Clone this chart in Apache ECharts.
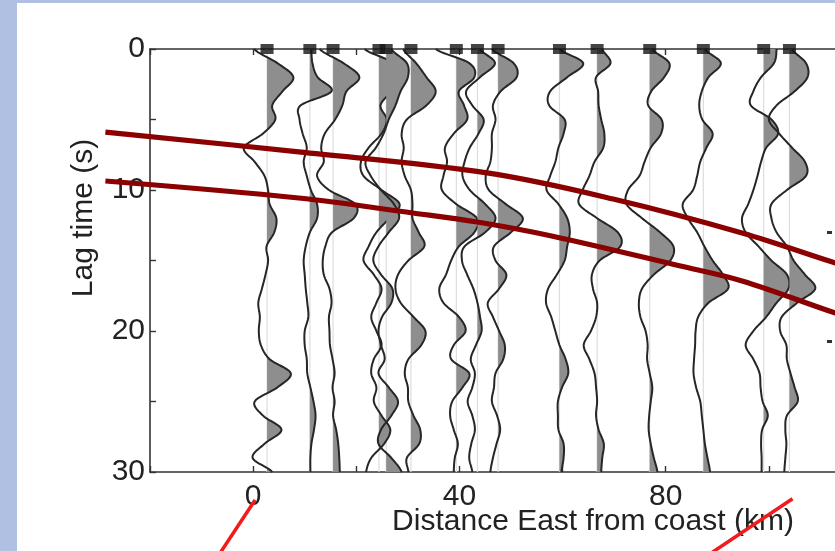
<!DOCTYPE html>
<html><head><meta charset="utf-8">
<script src="https://cdn.jsdelivr.net/npm/echarts@6/dist/echarts.min.js"></script>
<style>
html,body{margin:0;padding:0;width:835px;height:551px;overflow:hidden;background:#fff;}
#bandL{position:absolute;left:0;top:0;width:17px;height:551px;background:#b0c0e2;}
#bandT{position:absolute;left:0;top:0;width:835px;height:3px;background:#b0c0e2;}
#chart{position:absolute;left:0;top:0;width:900px;height:551px;}
</style></head>
<body><div id="bandL"></div><div id="bandT"></div><div id="chart"></div>
<script>
// ---- data ----
const lagTimes = [0,1,2,3,4,5,6,7,8,9,10,11,12,13,14,15,16,17,18,19,20,21,22,23,24,25,26,27,28,29,30];
const stationKm = [2.7, 11.0, 15.5, 24.4, 25.8, 30.6, 39.4, 43.5, 47.5, 59.4, 66.7, 76.9, 87.3, 99.0, 104.0];
// trace amplitudes (km of horizontal deflection), sampled at lagTimes
const trace01 = [-2.5, 2.0, 5.1, 3.0, 1.0, 1.6, -0.8, -4.5, -2.4, -0.5, 0.2, 0.5, 1.8, 1.4, -0.1, 0.2, -0.3, -1.0, -1.7, -1.4, -1.6, -1.2, 0.5, 4.6, 2.0, -2.4, -0.8, 2.8, -0.5, -2.8, 1.0];
const trace02 = [0.3, 0.5, 1.5, 4.2, -1.8, -2.0, -1.4, -0.6, -1.2, -0.6, 0.2, 1.4, 1.4, 0.0, -0.8, -1.2, -1.0, -0.8, -0.5, -0.3, -1.0, -1.0, -0.6, -0.5, 0.1, 0.7, 1.1, 0.8, 0.3, 0.1, 0.1];
const trace03 = [-2.6, 2.0, 5.1, 2.6, 1.8, 0.4, -1.6, -2.3, -1.8, -3.1, -0.8, 4.3, 4.0, -0.2, -1.5, -2.0, -1.8, -0.7, -0.3, -0.8, -0.7, -0.6, -0.1, 0.3, -0.1, 0.3, 0.0, 0.6, 1.0, 1.2, 1.3];
const trace04 = [-2.8, 3.0, 5.0, 2.5, 0.3, 1.5, 0.5, -2.0, -3.5, -3.0, 0.5, 4.0, 2.0, -0.5, -2.0, -3.0, -1.0, 0.5, -0.5, -1.5, -0.5, 0.5, -1.0, -1.5, -0.5, -1.0, 0.5, 2.2, 1.0, -1.5, -2.5];
const trace05 = [1.0, 4.0, 4.2, 2.8, 1.8, 0.5, -0.5, -2.0, -4.0, -3.0, -1.0, 1.5, 2.5, 0.5, -1.5, -2.5, -1.0, 1.2, 1.0, -0.8, -1.5, -1.0, -0.3, -1.5, 0.5, 2.3, 1.0, -1.0, -1.5, 1.0, 3.0];
const trace06 = [-1.5, 1.0, 3.0, 4.8, 3.0, -0.8, -1.8, -1.4, -1.8, -1.2, 0.0, 0.3, 0.3, 1.5, 2.6, -0.5, -2.5, -3.0, -2.0, 0.5, 2.8, 2.0, -0.5, -1.2, -0.6, -0.5, 0.5, 1.8, 1.6, -0.8, -0.5];
const trace07 = [-4.0, 2.5, 3.5, 0.5, 1.5, 2.1, -0.5, -2.2, -1.8, -2.5, -2.8, 0.0, 4.0, 3.5, 0.5, -1.0, -2.0, -3.3, -2.5, 0.5, 1.8, -0.5, -1.0, 2.5, 1.2, -0.8, -1.2, -0.5, 0.3, -0.3, -0.5];
const trace08 = [0.5, 3.4, 0.5, -2.2, -1.0, 1.2, 0.2, -1.5, -2.5, -2.9, -1.5, 1.5, 3.5, 1.5, -2.5, -3.0, -2.0, -0.8, 0.0, 0.5, 0.8, -0.3, -1.3, -0.5, -1.0, -1.9, -1.0, -0.5, -1.2, -1.6, -1.0];
const trace09 = [-1.2, 3.0, 3.6, 0.5, -1.0, -0.5, -1.2, -1.2, -1.5, -2.4, -1.8, 1.5, 4.8, 2.5, -0.8, -0.5, 1.6, 0.2, -2.0, -1.0, 0.2, 1.3, 1.0, -0.5, -0.8, -1.2, -0.2, 0.4, -0.3, -1.0, -1.5];
const trace10 = [0.0, 4.6, 1.5, -1.8, -2.0, 1.0, 0.8, -0.2, -0.8, -1.8, -2.5, -0.2, 1.5, 2.0, 1.5, 1.0, -0.5, -2.2, -2.6, -1.6, -0.8, 0.0, 1.2, 1.7, 0.5, -0.3, -0.3, -0.2, 0.8, 0.8, 0.4];
const trace11 = [1.0, 2.6, -0.2, 0.2, 0.3, 0.8, 1.4, 1.2, -0.5, -1.5, -2.8, -3.5, 0.0, 4.0, 4.5, 0.5, -1.0, -0.8, 0.0, -0.2, -1.2, -2.6, -1.5, -0.5, -0.2, 0.0, -0.2, 0.3, 1.3, 1.0, 0.8];
const trace12 = [0.5, 3.8, 2.8, 0.3, -0.3, 2.3, 2.2, 0.2, -1.0, -2.0, -4.2, -4.5, -1.5, 2.0, 4.6, 4.0, 0.8, -1.5, -2.1, -1.8, -0.8, -0.4, -0.5, 0.0, 0.5, 0.2, -0.1, -0.2, 0.2, 0.8, 1.5];
const trace13 = [0.3, 3.4, 1.0, -0.3, -0.8, -0.2, 1.8, 0.6, -0.6, -1.2, -2.0, -4.0, -3.0, -1.2, 0.2, 1.8, 3.8, 4.8, 1.0, -1.0, -1.5, -1.6, -1.8, -1.9, -1.4, -0.6, -0.3, 0.0, 0.3, 0.8, 1.3];
const trace14 = [2.5, 2.0, -0.5, -2.0, -2.5, 1.5, 2.8, 0.5, -0.5, -1.2, -2.0, -3.0, -4.2, -3.5, -1.0, 1.5, 4.5, 4.8, 2.5, 0.5, -2.0, -3.5, -2.0, -0.8, -0.6, -0.2, 0.8, -0.3, -0.5, -0.4, -0.4];
const trace15 = [0.5, 3.2, 3.5, 1.0, -2.5, -4.0, -2.0, 0.5, 3.0, 3.2, -0.5, -3.5, -3.5, -2.5, -0.5, 0.8, 3.0, 5.0, 1.5, -1.5, -1.8, -0.6, -0.5, 0.2, 1.0, 1.6, -0.5, -0.8, -0.6, -0.8, -1.0];
const traces = [trace01,trace02,trace03,trace04,trace05,trace06,trace07,trace08,trace09,trace10,trace11,trace12,trace13,trace14,trace15];

// interpreted interfaces (dark red)
const upperKm  = [-28.65, 8.85, 45.38, 69.81, 94.81, 111.73, 116];
const upperLag = [5.89, 7.30, 8.79, 10.64, 13.05, 15.04, 15.55];
const lowerKm  = [-28.65, 8.85, 30.96, 43.46, 57.88, 82.88, 94.81, 111.73, 116];
const lowerLag = [9.36, 10.57, 11.63, 12.27, 13.26, 15.39, 16.45, 18.58, 19.1];
// bright red annotation strokes
const markLeftKm  = [0.38, -6.5];
const markLeftLag = [31.99, 35.8];
const markRightKm  = [104.6, 88.6];
const markRightLag = [31.9, 35.8];

const xTickLabels = [0, 40, 80, 120];
const yTickLabels = [0, 10, 20, 30];

// ---- drawing ----
const FONT = '"Liberation Sans", Arial, Helvetica, sans-serif';
const overlays = [
  {km:upperKm, lag:upperLag, color:'#8b0000', width:5.2, smooth:0.35},
  {km:lowerKm, lag:lowerLag, color:'#8b0000', width:5.2, smooth:0.35},
  {km:markLeftKm, lag:markLeftLag, color:'#f21a1a', width:3.5, smooth:0},
  {km:markRightKm, lag:markRightLag, color:'#f21a1a', width:3.5, smooth:0}
];
function densify(a){
  const out=[]; const steps=10;
  for(let k=0;k<a.length-1;k++){
    const p0=a[Math.max(k-1,0)], p1=a[k], p2=a[k+1], p3=a[Math.min(k+2,a.length-1)];
    const t0=lagTimes[k], t1=lagTimes[k+1];
    for(let q=0;q<steps;q++){
      const u=q/steps;
      const v=0.5*((2*p1)+(-p0+p2)*u+(2*p0-5*p1+4*p2-p3)*u*u+(-p0+3*p1-3*p2+p3)*u*u*u);
      out.push([t0+(t1-t0)*u, v]);
    }
  }
  out.push([lagTimes[a.length-1], a[a.length-1]]);
  return out;
}
function renderTrace(params, api){
  const i = api.value(2);
  const s = stationKm[i];
  const dense = densify(traces[i]);
  const pts = dense.map(d=>api.coord([s+d[1], d[0]]));
  const children=[];
  let poly=null;
  for(let k=0;k<dense.length;k++){
    const t=dense[k][0], v=dense[k][1];
    if(v>0){
      if(!poly){
        let tc=t;
        if(k>0){const tp=dense[k-1][0], vp=dense[k-1][1]; tc=tp+(t-tp)*(vp/(vp-v));}
        poly=[api.coord([s,tc])];
      }
      poly.push(pts[k]);
    } else if(poly){
      const tp=dense[k-1][0], vp=dense[k-1][1]; const tc=tp+(t-tp)*(vp/(vp-v));
      poly.push(api.coord([s,tc]));
      children.push({type:'polygon', shape:{points:poly}, style:{fill:'#8e8e8e'}});
      poly=null;
    }
  }
  if(poly){ poly.push(api.coord([s,dense[dense.length-1][0]])); children.push({type:'polygon', shape:{points:poly}, style:{fill:'#8e8e8e'}}); }
  children.push({type:'polyline', shape:{points:pts}, style:{stroke:'#262626', lineWidth:2, fill:null, lineJoin:'round'}});
  return {type:'group', children};
}
function renderBase(params, api){
  const s = stationKm[api.value(2)];
  const a = api.coord([s, lagTimes[0]]), b = api.coord([s, lagTimes[lagTimes.length-1]]);
  return {type:'line', shape:{x1:a[0],y1:a[1],x2:b[0],y2:b[1]}, style:{stroke:'#dddddd', lineWidth:1.2}};
}
function renderOverlay(params, api){
  const o = overlays[api.value(2)];
  const pts = o.km.map((x,i)=>api.coord([x, o.lag[i]]));
  return {type:'polyline', shape:{points:pts, smooth:o.smooth}, style:{stroke:o.color, lineWidth:o.width, fill:null, lineCap:'butt'}};
}
const axisCommon = {
  type:'value', min:-20, max:120, interval:20,
  axisLine:{show:true, onZero:false, lineStyle:{color:'#333', width:1.6}},
  axisTick:{show:true, inside:true, length:6, lineStyle:{color:'#333', width:1.4}},
  splitLine:{show:false}
};
const chart = echarts.init(document.getElementById('chart'), null, {renderer:'canvas'});
chart.setOption({
  animation:false,
  grid:{left:150, top:49, width:728, height:423},
  xAxis:[
    Object.assign({}, axisCommon, {position:'bottom',
      axisLabel:{fontSize:30, fontFamily:FONT, color:'#222', margin:10,
        formatter:v=>xTickLabels.includes(v)?String(v):''}}),
    Object.assign({}, axisCommon, {position:'top', axisLabel:{show:false}})
  ],
  yAxis:[{
    type:'value', min:0, max:30, interval:5, inverse:true,
    axisLine:{show:true, onZero:false, lineStyle:{color:'#333', width:1.6}},
    axisTick:{show:true, inside:true, length:6, lineStyle:{color:'#333', width:1.4}},
    splitLine:{show:false},
    axisLabel:{fontSize:30, fontFamily:FONT, color:'#222', margin:5,
      formatter:v=>yTickLabels.includes(v)?String(v):''}
  }],
  graphic:[
    {type:'text', x:84, y:218, rotation:Math.PI/2, style:{text:'Lag time (s)', font:'30px '+FONT, fill:'#222', textAlign:'center', textVerticalAlign:'middle'}},
    {type:'text', x:593, y:522, style:{text:'Distance East from coast (km)', font:'30px '+FONT, fill:'#222', textAlign:'center', textVerticalAlign:'middle'}},
    {type:'rect', shape:{x:827, y:231, width:5, height:3}, style:{fill:'#333'}},
    {type:'rect', shape:{x:827, y:340, width:5, height:3}, style:{fill:'#333'}}
  ],
  series:[
    {type:'custom', renderItem:renderBase, data:stationKm.map((s,i)=>[s,0,i]), encode:{x:0,y:1}, z:1, silent:true},
    {type:'custom', renderItem:renderTrace, data:stationKm.map((s,i)=>[s,0,i]), encode:{x:0,y:1}, z:2, silent:true},
    {type:'scatter', data:stationKm.map(s=>[s,0]), symbol:'rect', symbolSize:[13,10], itemStyle:{color:'#151515'}, clip:false, z:5},
    {type:'custom', renderItem:renderOverlay, clip:false, data:overlays.map((o,i)=>[o.km[0], o.lag[0], i]), encode:{x:0,y:1}, z:6, silent:true}
  ]
});
</script>
</body></html>
